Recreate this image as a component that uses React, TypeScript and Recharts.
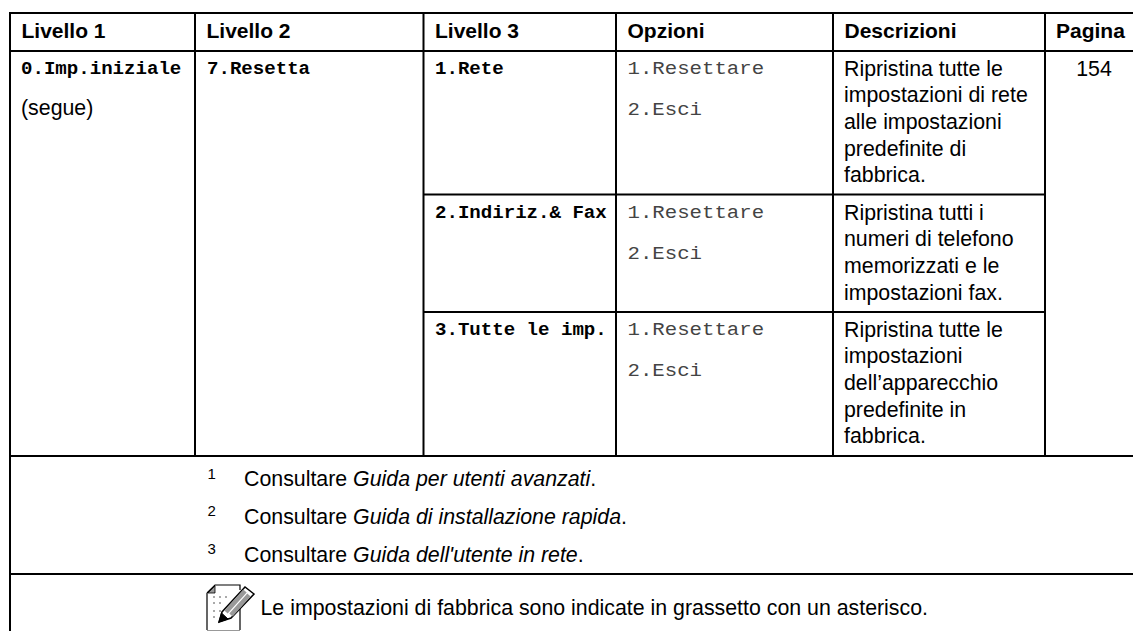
import { ScatterChart, Scatter, XAxis, YAxis, ReferenceLine } from 'recharts'

const WIDTH = 1133
const HEIGHT = 631

const SANS = '"Liberation Sans", Arial, sans-serif'
const MONO = '"Liberation Mono", "Courier New", monospace'

// Table text
const HEADERS = ['Livello 1', 'Livello 2', 'Livello 3', 'Opzioni', 'Descrizioni']
const PAGE_HEADER = 'Pagina'
const LEVEL_1 = '0.Imp.iniziale'
const LEVEL_1_NOTE = '(segue)'
const LEVEL_2 = '7.Resetta'
const LEVEL_3 = ['1.Rete', '2.Indiriz.& Fax', '3.Tutte le imp.']
const OPTIONS = ['1.Resettare', '2.Esci']
const DESCRIPTIONS = [
    ['Ripristina tutte le', 'impostazioni di rete', 'alle impostazioni', 'predefinite di', 'fabbrica.'],
    ['Ripristina tutti i', 'numeri di telefono', 'memorizzati e le', 'impostazioni fax.'],
    ['Ripristina tutte le', 'impostazioni', 'dell\u2019apparecchio', 'predefinite in', 'fabbrica.'],
]
const PAGE = '154'
const FOOTNOTES = ['Guida per utenti avanzati', 'Guida di installazione rapida', 'Guida dell\'utente in rete']
const NOTE = 'Le impostazioni di fabbrica sono indicate in grassetto con un asterisco.'

// Grid lines, in page pixels (the axes run 0..WIDTH and 0..HEIGHT)
const COLS = [10, 195, 423.5, 616, 833, 1045]
const ROWS = [13, 51, 194.5, 312, 456, 574]
const MONO_BASE = [74, 218, 335]
const SANS_BASE = [75.5, 219.5, 336.5]

type Cell = { x: number; y: number; text: string; anchor?: string }

const cell = (x: number, y: number, text: string, anchor?: string): Cell => ({ x, y, text, anchor })

const headerCells = [
    ...HEADERS.map((h, i) => cell(COLS[i] + 11.5, 37.5, h)),
    cell(COLS[5] + 11, 37.5, PAGE_HEADER),
]

const monoBoldCells = [
    cell(COLS[0] + 11, MONO_BASE[0], LEVEL_1),
    cell(COLS[1] + 12, MONO_BASE[0], LEVEL_2),
    ...LEVEL_3.map((t, i) => cell(COLS[2] + 11.5, MONO_BASE[i], t)),
]

const monoCells = MONO_BASE.flatMap((y) =>
    OPTIONS.map((t, i) => cell(COLS[3] + 11.5, y + i * 40.5, t)),
)

const sansCells = [
    cell(COLS[0] + 11, 115, LEVEL_1_NOTE),
    cell(COLS[5] + 49, SANS_BASE[0], PAGE, 'middle'),
    ...DESCRIPTIONS.flatMap((lines, r) =>
        lines.map((t, i) => cell(COLS[4] + 11, SANS_BASE[r] + i * 26.7, t)),
    ),
]

const footnoteCells = FOOTNOTES.map((f, i) => cell(244, [486, 524, 561.5][i], f))
const supCells = FOOTNOTES.map((_, i) => cell(207.5, [478.5, 516, 553.5][i], String(i + 1)))
const noteCell = [cell(260.5, 615, NOTE)]
const iconPoint = [cell(207, 585, '')]

const TextShape = (style: any, scaleY = 1) => (props: any) => {
    const { cx, cy, payload } = props
    return (
        <text
            transform={`translate(${cx},${cy}) scale(1,${scaleY})`}
            textAnchor={payload.anchor || 'start'}
            fill="#000"
            {...style}
        >
            {payload.text}
        </text>
    )
}

const FootnoteShape = (props: any) => {
    const { cx, cy, payload } = props
    return (
        <text x={cx} y={cy} fill="#000" fontFamily={SANS} fontSize={21.33}>
            Consultare <tspan fontStyle="italic">{payload.text}</tspan>.
        </text>
    )
}

// Note icon: sheet of paper with a pencil over it
const IconShape = (props: any) => {
    const { cx, cy } = props
    return (
        <g transform={`translate(${cx},${cy})`}>
            <path d="M0 8 L8 0 H33 V5 M33 18 V45 M0 8 V45" fill="none" stroke="#000" strokeWidth={1.2} />
            <path d="M0 45.5 H33" stroke="#999" strokeWidth={1} />
            <path d="M1 8 H8 V1 Z" fill="#999" stroke="#000" strokeWidth={0.8} />
            <path d="M6 12 h2 M12 12 h2 M18 12 h2 M6 18 h2 M12 18 h2 M6 26 h2 M12 26 h2 M6 32 h2" stroke="#aaa" strokeWidth={2} />
            <path d="M12 37 L15 27 L38 2 L47 9 L24 33 Z" fill="#fff" stroke="#000" strokeWidth={1.5} />
            <path d="M19 27 L38 6 M24 30 L42 10" stroke="#999" strokeWidth={4.5} />
            <path d="M12 37 L14.5 28 L21 34 Z" fill="#000" stroke="#000" />
        </g>
    )
}

const LINE = { stroke: '#000', strokeWidth: 2, ifOverflow: 'visible' as const }

const hLine = (y: number, x1: number, x2: number) => (
    <ReferenceLine key={`h${y}-${x1}`} segment={[{ x: x1, y }, { x: x2, y }]} {...LINE} />
)
const vLine = (x: number, y1: number, y2: number) => (
    <ReferenceLine key={`v${x}-${y1}`} segment={[{ x, y: y1 }, { x, y: y2 }]} {...LINE} />
)

export default function App() {
    return (
        <div style={{ position: 'absolute', left: 0, top: 0, width: WIDTH, height: HEIGHT, background: '#fff' }}>
            <ScatterChart width={WIDTH} height={HEIGHT} margin={{ top: 0, right: 0, bottom: 0, left: 0 }}>
                <XAxis type="number" dataKey="x" domain={[0, WIDTH]} hide />
                <YAxis type="number" dataKey="y" domain={[0, HEIGHT]} reversed hide />

                {/* Horizontal rules */}
                {hLine(ROWS[0], COLS[0] - 1, WIDTH)}
                {hLine(ROWS[1], COLS[0], WIDTH)}
                {hLine(ROWS[2], COLS[2], COLS[5])}
                {hLine(ROWS[3], COLS[2], COLS[5])}
                {hLine(ROWS[4], COLS[0], WIDTH)}
                {hLine(ROWS[5], COLS[0], WIDTH)}

                {/* Vertical rules */}
                {vLine(COLS[0], ROWS[0], HEIGHT)}
                {COLS.slice(1).map((x) => vLine(x, ROWS[0], ROWS[4]))}

                <Scatter data={headerCells} isAnimationActive={false} shape={TextShape({ fontFamily: SANS, fontSize: 21, fontWeight: 700 })} />
                <Scatter data={monoBoldCells} isAnimationActive={false} shape={TextShape({ fontFamily: MONO, fontSize: 19.1, fontWeight: 700 }, 0.95)} />
                <Scatter data={monoCells} isAnimationActive={false} shape={TextShape({ fontFamily: MONO, fontSize: 20.7, fill: '#444' }, 0.92)} />
                <Scatter data={sansCells} isAnimationActive={false} shape={TextShape({ fontFamily: SANS, fontSize: 21.33 })} />
                <Scatter data={footnoteCells} isAnimationActive={false} shape={FootnoteShape} />
                <Scatter data={supCells} isAnimationActive={false} shape={TextShape({ fontFamily: SANS, fontSize: 15 })} />
                <Scatter data={noteCell} isAnimationActive={false} shape={TextShape({ fontFamily: SANS, fontSize: 21.33 })} />
                <Scatter data={iconPoint} isAnimationActive={false} shape={IconShape} />
            </ScatterChart>
        </div>
    )
}
